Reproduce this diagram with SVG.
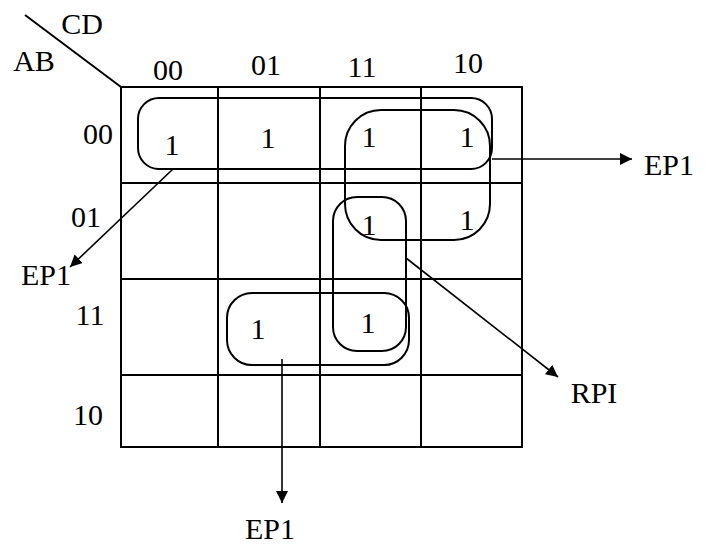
<svg xmlns="http://www.w3.org/2000/svg" width="708" height="546" viewBox="0 0 708 546">
<defs>
<style>
text{font-family:"Liberation Serif","Times New Roman",serif;font-size:30px;fill:#000;text-anchor:middle}
.g{stroke:#000;stroke-width:2;fill:none}
.loop{stroke:#000;stroke-width:2;fill:none}
.arr{stroke:#000;stroke-width:1.6;fill:none;marker-end:url(#ah)}
</style>
<marker id="ah" viewBox="0 0 10 10" refX="10" refY="5" markerWidth="12" markerHeight="12" markerUnits="userSpaceOnUse" orient="auto">
<path d="M0,0 L10,5 L0,10 Z" fill="#000"/>
</marker>
</defs>
<rect width="708" height="546" fill="#fff"/>
<g id="kmap-grid">
<line class="g" x1="25" y1="15" x2="121" y2="87"/>
<rect class="g" x="121" y="87" width="401" height="360"/>
<line class="g" x1="218" y1="87" x2="218" y2="447"/>
<line class="g" x1="320" y1="87" x2="320" y2="447"/>
<line class="g" x1="421" y1="87" x2="421" y2="447"/>
<line class="g" x1="121" y1="183" x2="522" y2="183"/>
<line class="g" x1="121" y1="279" x2="522" y2="279"/>
<line class="g" x1="121" y1="375" x2="522" y2="375"/>
</g>
<g id="labels">
<text x="82" y="34">CD</text>
<text x="34" y="71">AB</text>
<text x="168" y="80">00</text>
<text x="266" y="75">01</text>
<text x="362" y="77">11</text>
<text x="468" y="73">10</text>
<text x="98" y="144">00</text>
<text x="86" y="227">01</text>
<text x="90" y="325">11</text>
<text x="88" y="425">10</text>
</g>
<g id="cells">
<text x="172" y="155">1</text>
<text x="268" y="148">1</text>
<text x="369" y="147">1</text>
<text x="467" y="147">1</text>
<text x="369" y="235">1</text>
<text x="467" y="230">1</text>
<text x="258" y="339">1</text>
<text x="368" y="333">1</text>
</g>
<g id="loop-row00">
<rect class="loop" x="138" y="98" width="354" height="71" rx="21" ry="21"/>
</g>
<g id="loop-quad">
<rect class="loop" x="345" y="110" width="145" height="130" rx="36" ry="36"/>
</g>
<g id="loop-vertical">
<rect class="loop" x="333" y="197" width="73" height="154" rx="24" ry="24"/>
</g>
<g id="loop-horizontal">
<rect class="loop" x="227" y="293" width="182" height="72" rx="25" ry="25"/>
</g>
<g id="connectors">
<line class="arr" x1="492" y1="159" x2="632" y2="159"/>
<line class="arr" x1="173" y1="169" x2="70" y2="267"/>
<line class="arr" x1="406" y1="258" x2="558" y2="377"/>
<line class="arr" x1="282" y1="359" x2="282" y2="503"/>
</g>
<g id="arrow-labels">
<text x="669" y="175">EP1</text>
<text x="46" y="285">EP1</text>
<text x="594" y="403">RPI</text>
<text x="270" y="539">EP1</text>
</g>
</svg>
